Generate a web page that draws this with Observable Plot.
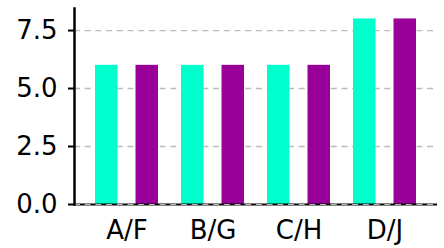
<!DOCTYPE html>
<html>
<head>
<meta charset="utf-8">
<script src="https://cdn.jsdelivr.net/npm/d3@7"></script>
<script src="https://cdn.jsdelivr.net/npm/@observablehq/plot@0.6"></script>
<style>
  html, body { margin: 0; padding: 0; background: #fff; }
  svg { font-family: "DejaVu Sans", sans-serif; }
</style>
</head>
<body>
<div id="chart"></div>
<script>
const categories = ["A/F", "B/G", "C/H", "D/J"];
const series1 = [6, 6, 6, 8];
const series2 = [6, 6, 6, 8];
const yTicks = [0, 2.5, 5, 7.5];
const gridTicks = [2.5, 5, 7.5];

const table = categories.map((c, i) => ({cat: c, a: series1[i], b: series2[i]}));

const chart = Plot.plot({
  width: 444,
  height: 248,
  marginLeft: 74,
  marginRight: 7,
  marginTop: 8,
  marginBottom: 44,
  style: {fontFamily: "DejaVu Sans, sans-serif", background: "#fff", color: "#000"},
  x: {domain: categories, paddingInner: 0.27, paddingOuter: 0.222},
  y: {domain: [0, 8.45]},
  marks: [
    Plot.ruleY(gridTicks, {stroke: "#bbb", strokeWidth: 1.3, strokeDasharray: "6,4.7"}),
    Plot.barY(table, {x: "cat", y: "a", fill: "#00ffcc", insetRight: 40.5}),
    Plot.barY(table, {x: "cat", y: "b", fill: "#990099", insetLeft: 40.5}),
    Plot.ruleY([0], {stroke: "#000", strokeWidth: 2}),
    Plot.ruleY([0], {stroke: "#bbb", strokeWidth: 1, strokeDasharray: "6,4.7"}),
    Plot.frame({anchor: "left", stroke: "#000", strokeWidth: 2.5}),
    Plot.axisY({ticks: yTicks, tickFormat: d => d.toFixed(1), tickSize: 6, tickPadding: 11, fontSize: 26, strokeWidth: 2, label: null}),
    Plot.axisX({tickSize: 0, tickPadding: 16, fontSize: 26, label: null})
  ]
});
document.getElementById("chart").appendChild(chart);
</script>
</body>
</html>
